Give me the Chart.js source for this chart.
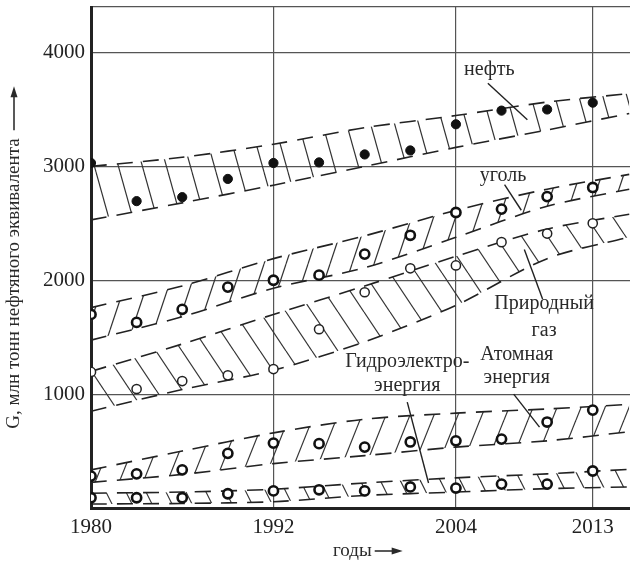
<!DOCTYPE html>
<html>
<head>
<meta charset="utf-8">
<script src="https://cdn.jsdelivr.net/npm/chart.js@4.4.0/dist/chart.umd.min.js"></script>
<style>
  body { margin: 0; background: #fff; }
  #wrap { width: 630px; height: 562px; }
</style>
</head>
<body>
<div id="wrap"><canvas id="chart" width="630" height="562"></canvas></div>
<script>
// observed values (every 3 years)
const years = [1980, 1983, 1986, 1989, 1992, 1995, 1998, 2001, 2004, 2007, 2010, 2013];
const oil = [3030, 2695, 2730, 2890, 3030, 3035, 3105, 3140, 3370, 3490, 3500, 3560];
const coal = [1700, 1630, 1745, 1940, 2000, 2045, 2230, 2395, 2595, 2625, 2735, 2815];
const gas = [1195, 1045, 1115, 1165, 1220, 1570, 1895, 2105, 2130, 2335, 2410, 2500];
const nuclear = [280, 300, 335, 480, 570, 565, 535, 580, 590, 605, 755, 860];
const hydro = [90, 90, 90, 125, 150, 160, 150, 185, 175, 210, 210, 325];

// forecast corridors (upper / lower edges)
const bandYears = [1980, 1986, 1992, 1998, 2004, 2010, 2015.4];
const oilHigh = [3000, 3080, 3195, 3340, 3447, 3565, 3640];
const oilLow = [2530, 2680, 2835, 3000, 3167, 3320, 3465];
const coalHigh = [1760, 1950, 2190, 2390, 2614, 2800, 2930];
const coalLow = [1474, 1680, 1930, 2110, 2377, 2650, 2800];
const gasHigh = [1200, 1440, 1700, 1950, 2210, 2450, 2580];
const gasLow = [850, 1040, 1210, 1460, 1780, 2190, 2380];
const nuclearHigh = [335, 500, 660, 780, 833, 870, 910];
const nuclearLow = [225, 295, 390, 460, 535, 590, 670];
const hydroHigh = [130, 140, 165, 220, 265, 300, 340];
const hydroLow = [35, 40, 55, 110, 140, 170, 185];

const xTicks = [1980, 1992, 2004, 2013];
const yTicks = [0, 1000, 2000, 3000, 4000, 4400];
const yTickLabels = [1000, 2000, 3000, 4000];

// labels placed in data units: [text, year, value]
const notes = [
    ['нефть', 2006.2, 3850],
    ['уголь', 2007.1, 2920],
    ['Природный', 2009.8, 1790],
    ['газ', 2009.8, 1560],
    ['Атомная', 2008.0, 1345],
    ['энергия', 2008.0, 1140],
    ['Гидроэлектро-', 2000.8, 1285],
    ['энергия', 2000.8, 1070]
];
// leader lines: [year1, value1, year2, value2]
const leaders = [
    [2006.1, 3730, 2008.7, 3410],
    [2007.2, 2840, 2008.3, 2615],
    [2008.5, 2270, 2009.7, 1835],
    [2007.8, 1000, 2009.5, 710],
    [2000.8, 930, 2002.2, 220]
];

const SERIF = '"Liberation Serif", "DejaVu Serif", serif';

function hatch(dir, w, slope) {
    const h = Math.round(w * slope);
    const c = document.createElement('canvas');
    c.width = w; c.height = h;
    const g = c.getContext('2d');
    g.strokeStyle = '#333';
    g.lineWidth = 1.2;
    for (let k = -1; k <= 1; k++) {
        g.beginPath();
        if (dir === '\\') {
            g.moveTo(k * w, 0); g.lineTo(k * w + w, h);
        } else {
            g.moveTo(k * w, h); g.lineTo(k * w + w, 0);
        }
        g.stroke();
    }
    return g.createPattern(c, 'repeat');
}

function xy(xs, ys) {
    return xs.map((x, i) => ({ x: x, y: ys[i] }));
}

function edge(vals, fill, pattern) {
    return {
        data: xy(bandYears, vals),
        borderColor: '#222',
        borderWidth: 1.6,
        borderDash: [16, 10],
        pointRadius: 0,
        tension: 0.3,
        fill: fill,
        backgroundColor: pattern || 'transparent',
        order: 2
    };
}

function marks(vals, style) {
    return Object.assign({
        data: xy(years, vals),
        showLine: false,
        pointStyle: 'circle',
        pointRadius: 4.6,
        order: 1
    }, style);
}

const ringed = { pointBackgroundColor: '#fff', pointBorderColor: '#111', pointBorderWidth: 2.6 };

function noPad(s) {
    s.paddingTop = 0;
    s.paddingBottom = 0;
    s.paddingLeft = 0;
    s.paddingRight = 0;
}

const labelsPlugin = {
    id: 'labels',
    afterDraw(chart) {
        const ctx = chart.ctx;
        const xs = chart.scales.x, ys = chart.scales.y;
        ctx.save();
        ctx.fillStyle = '#2a2a2a';
        ctx.strokeStyle = '#222';
        ctx.lineWidth = 1.4;
        ctx.font = '20px ' + SERIF;
        ctx.textAlign = 'center';
        ctx.textBaseline = 'middle';
        notes.forEach(n => {
            ctx.fillText(n[0], xs.getPixelForValue(n[1]), ys.getPixelForValue(n[2]));
        });
        leaders.forEach(l => {
            ctx.beginPath();
            ctx.moveTo(xs.getPixelForValue(l[0]), ys.getPixelForValue(l[1]));
            ctx.lineTo(xs.getPixelForValue(l[2]), ys.getPixelForValue(l[3]));
            ctx.stroke();
        });

        // axis titles with arrows
        ctx.font = '19px ' + SERIF;
        const yTitle = 'G, млн тонн нефтяного эквивалента';
        const tw = ctx.measureText(yTitle).width;
        const mid = (chart.chartArea.top + chart.chartArea.bottom) / 2;
        const total = tw + 52;
        const start = mid + total / 2;
        ctx.save();
        ctx.translate(14, start);
        ctx.rotate(-Math.PI / 2);
        ctx.textAlign = 'left';
        ctx.fillText(yTitle, 0, 0);
        arrow(ctx, tw + 8, tw + 52, 0);
        ctx.restore();

        const xTitle = 'годы';
        ctx.textAlign = 'left';
        const xw = ctx.measureText(xTitle).width;
        ctx.fillText(xTitle, 333, 551);
        arrow(ctx, 333 + xw + 3, 333 + xw + 31, 551);
        ctx.restore();
    }
};

function arrow(ctx, x0, x1, y) {
    ctx.beginPath();
    ctx.lineWidth = 1.5;
    ctx.moveTo(x0, y);
    ctx.lineTo(x1 - 8, y);
    ctx.stroke();
    ctx.beginPath();
    ctx.moveTo(x1, y);
    ctx.lineTo(x1 - 11, y - 3.5);
    ctx.lineTo(x1 - 11, y + 3.5);
    ctx.closePath();
    ctx.fill();
}

new Chart(document.getElementById('chart'), {
    type: 'line',
    data: {
        datasets: [
            edge(oilHigh, false),
            edge(oilLow, '-1', hatch('\\', 24, 3.6)),
            edge(coalHigh, false),
            edge(coalLow, '-1', hatch('/', 22, 3)),
            edge(gasHigh, false),
            edge(gasLow, '-1', hatch('\\', 26, 1.5)),
            edge(nuclearHigh, false),
            edge(nuclearLow, '-1', hatch('/', 24, 2.5)),
            edge(hydroHigh, false),
            edge(hydroLow, '-1', hatch('\\', 20, 2)),
            marks(oil, { pointBackgroundColor: '#111', pointBorderColor: '#111', pointBorderWidth: 1 }),
            marks(coal, ringed),
            marks(gas, { pointBackgroundColor: '#fff', pointBorderColor: '#222', pointBorderWidth: 1.5 }),
            marks(nuclear, ringed),
            marks(hydro, ringed)
        ]
    },
    options: {
        responsive: false,
        animation: false,
        layout: { autoPadding: false, padding: { top: 7, right: 0, left: 0, bottom: 0 } },
        plugins: {
            legend: { display: false },
            tooltip: { enabled: false }
        },
        scales: {
            x: {
                type: 'linear',
                min: 1980,
                max: 2015.45,
                afterBuildTicks: s => { s.ticks = xTicks.map(v => ({ value: v })); },
                afterFit: s => { s.height = 54; noPad(s); },
                grid: { color: '#555', lineWidth: 1.2, drawTicks: false },
                border: { color: '#222', width: 3 },
                ticks: {
                    padding: 7,
                    color: '#222',
                    font: { family: SERIF, size: 21 },
                    maxRotation: 0,
                    callback: v => String(v)
                }
            },
            y: {
                min: 0,
                max: 4400,
                afterBuildTicks: s => { s.ticks = yTicks.map(v => ({ value: v })); },
                afterFit: s => { s.width = 91; noPad(s); },
                grid: { color: '#555', lineWidth: 1.2, drawTicks: false },
                border: { color: '#222', width: 3 },
                ticks: {
                    padding: 6,
                    color: '#222',
                    font: { family: SERIF, size: 21 },
                    callback: v => yTickLabels.includes(v) ? String(v) : ''
                }
            }
        }
    },
    plugins: [labelsPlugin]
});
</script>
</body>
</html>
